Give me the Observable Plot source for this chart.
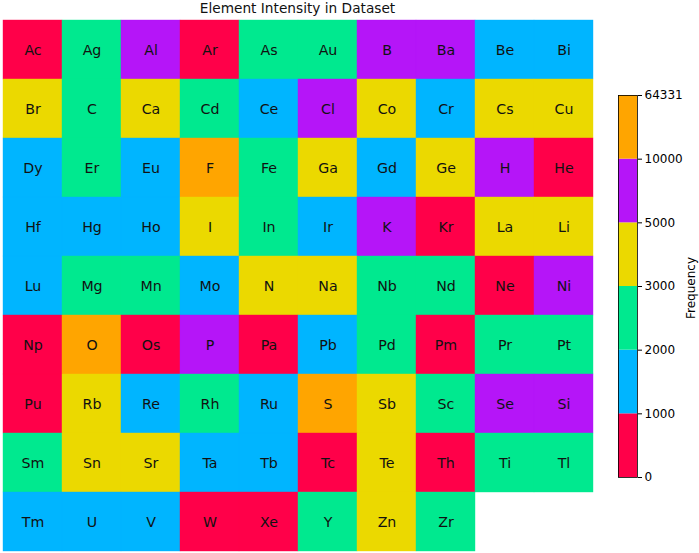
<!DOCTYPE html>
<html><head><meta charset="utf-8">
<script src="https://cdn.jsdelivr.net/npm/d3@7"></script>
<script src="https://cdn.jsdelivr.net/npm/@observablehq/plot@0.6"></script>
<style>
body{margin:0;background:#fff;font-family:"DejaVu Sans",sans-serif}
#wrap{position:relative;width:699px;height:553px;overflow:hidden;background:#fff}
#title{position:absolute;left:0;top:0;width:595px;text-align:center;font-size:13.7px;line-height:17px;color:#111}
#main{position:absolute;left:0;top:0}
#cbar{position:absolute;left:610px;top:85px}
#flabel{position:absolute;left:691px;top:288px;transform:translate(-50%,-50%) rotate(-90deg);font-size:12px;white-space:nowrap;color:#000}
</style></head>
<body><div id="wrap"><div id="title">Element Intensity in Dataset</div><div id="main"></div><div id="cbar"></div><div id="flabel">Frequency</div></div>
<script>
const symbols = [
 "Ac","Ag","Al","Ar","As","Au","B","Ba","Be","Bi",
 "Br","C","Ca","Cd","Ce","Cl","Co","Cr","Cs","Cu",
 "Dy","Er","Eu","F","Fe","Ga","Gd","Ge","H","He",
 "Hf","Hg","Ho","I","In","Ir","K","Kr","La","Li",
 "Lu","Mg","Mn","Mo","N","Na","Nb","Nd","Ne","Ni",
 "Np","O","Os","P","Pa","Pb","Pd","Pm","Pr","Pt",
 "Pu","Rb","Re","Rh","Ru","S","Sb","Sc","Se","Si",
 "Sm","Sn","Sr","Ta","Tb","Tc","Te","Th","Ti","Tl",
 "Tm","U","V","W","Xe","Y","Zn","Zr"];
const frequencies = [
 420,2450,7200,610,2300,2650,5600,6100,1350,1480,
 3900,2900,4200,2150,1720,8300,3500,1600,3300,4600,
 1250,2050,1100,18500,2800,3700,1400,3200,9200,510,
 1500,1650,1050,4100,2250,1300,6800,720,3400,4800,
 1150,2700,2550,1850,4400,3600,2350,2100,380,5300,
 150,64331,260,7700,180,1900,2600,90,2400,2750,
 210,3100,1200,2200,1550,31500,3800,2480,5900,8900,
 2150,4300,3950,1450,1100,120,3250,330,2850,2050,
 1350,1750,1600,820,560,2300,4500,2650];
const binEdges = [1000,2000,3000,5000,10000];
const binColors = ["#ff0049","#00b5ff","#00e98f","#ebd900","#b515f8","#ffa500"];
const tickLabels = ["0","1000","2000","3000","5000","10000","64331"];
const nCols = 10;

const data = symbols.map((s,i)=>({symbol:s, value:frequencies[i], col:i%nCols, row:Math.floor(i/nCols)}));

const main = Plot.plot({
  width:595, height:553,
  marginLeft:2, marginRight:2, marginTop:19, marginBottom:2,
  style:{fontFamily:"DejaVu Sans", background:"transparent"},
  x:{type:"band", domain:d3.range(nCols), padding:0, axis:null},
  y:{type:"band", domain:d3.range(9), padding:0, axis:null},
  color:{type:"threshold", domain:binEdges, range:binColors},
  marks:[
    Plot.cell(data,{x:"col", y:"row", fill:"value", stroke:"value", strokeWidth:0.4, inset:0}),
    Plot.text(data,{x:"col", y:"row", text:"symbol", fontSize:14.2, fill:"#111"})
  ]
});
document.getElementById("main").append(main);

const bins = binColors.map((c,i)=>({i, color:c}));
const cbar = Plot.plot({
  width:89, height:402,
  marginLeft:8, marginRight:62, marginTop:10, marginBottom:10,
  style:{fontFamily:"DejaVu Sans", fontSize:"12px", background:"transparent", color:"#000"},
  x:{domain:[0,1], axis:null},
  y:{domain:[0,6]},
  color:{type:"identity"},
  marks:[
    Plot.rect(bins,{x1:0, x2:1, y1:d=>d.i, y2:d=>d.i+1, fill:"color"}),
    Plot.frame({stroke:"#000", strokeWidth:0.8}),
    Plot.axisY({anchor:"right", ticks:d3.range(7), tickFormat:i=>tickLabels[i], tickSize:4, tickPadding:3, fontSize:12, label:null})
  ]
});
document.getElementById("cbar").append(cbar);
</script></body></html>
